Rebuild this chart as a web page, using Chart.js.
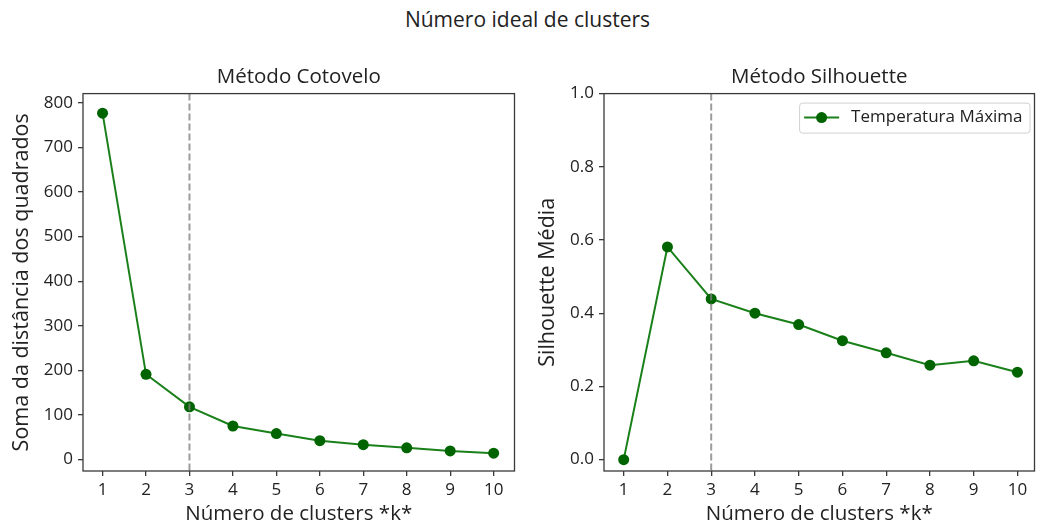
<!DOCTYPE html>
<html>
<head>
<meta charset="utf-8">
<script src="https://cdn.jsdelivr.net/npm/chart.js@4"></script>
<style>
  html, body { margin: 0; padding: 0; background: #ffffff; }
  #wrap { position: relative; width: 1040px; height: 527px; background: #fff; overflow: hidden; }
  #sup { position: absolute; left: 0; width: 1055px; top: 5px; text-align: center;
         font-family: "Open Sans", sans-serif; font-size: 21px; color: #222; line-height: 29px; }
  canvas { position: absolute; top: 0; }
  #c1 { left: 0; }
  #c2 { left: 520px; }
</style>
</head>
<body>
<div id="wrap">
  <div id="sup">Número ideal de clusters</div>
  <canvas id="c1" width="520" height="527"></canvas>
  <canvas id="c2" width="520" height="527"></canvas>
</div>
<script>
// ---- data ----
const clusters = [1, 2, 3, 4, 5, 6, 7, 8, 9, 10];
const somaDistancias = [777, 191, 118, 75, 58, 42, 33, 26, 19, 14];
const silhouetteMedia = [0.0, 0.581, 0.439, 0.400, 0.369, 0.325, 0.292, 0.258, 0.270, 0.239];
const kIdeal = 3;
const yTicksCotovelo = [0, 100, 200, 300, 400, 500, 600, 700, 800];
const yTicksSilhouette = [0.0, 0.2, 0.4, 0.6, 0.8, 1.0];
const serieLabel = 'Temperatura Máxima';

const FONT = '"Open Sans", sans-serif';
const TXT = '#222';
const SPINE = '#3a3a3a';
const LINE_COLOR = '#1a801a';
const MARKER_COLOR = '#006400';

const toPoints = (ys) => clusters.map((k, i) => ({ x: k, y: ys[i] }));

// frame (all four spines) + vertical dashed line at k ideal
const framePlugin = {
  id: 'frameAndVline',
  afterDatasetsDraw(chart) {
    const { ctx, chartArea: a, scales } = chart;
    const xp = scales.x.getPixelForValue(kIdeal);
    ctx.save();
    ctx.strokeStyle = 'rgba(128,128,128,0.78)';
    ctx.lineWidth = 2;
    ctx.setLineDash([7, 3]);
    ctx.beginPath();
    ctx.moveTo(xp, a.top);
    ctx.lineTo(xp, a.bottom);
    ctx.stroke();
    ctx.restore();
  },
  afterDraw(chart) {
    const { ctx, chartArea: a } = chart;
    ctx.save();
    ctx.strokeStyle = SPINE;
    ctx.lineWidth = 1.3;
    ctx.strokeRect(a.left, a.top, a.right - a.left, a.bottom - a.top);
    ctx.restore();
  }
};

// matplotlib-like legend inside the axes (upper right)
const mplLegend = {
  id: 'mplLegend',
  afterDraw(chart, args, opts) {
    if (!opts || !opts.show) return;
    const { ctx, chartArea: a } = chart;
    const ds = chart.data.datasets[0];
    ctx.save();
    ctx.font = '17px ' + FONT;
    const tw = ctx.measureText(ds.label).width;
    const padL = 5, lineLen = 35, gap = 12, padR = 7, h = 30;
    const w = padL + lineLen + gap + tw + padR;
    const right = a.right - 5, top = a.top + 9;
    const left = right - w;
    ctx.fillStyle = 'rgba(255,255,255,0.8)';
    ctx.strokeStyle = '#d0d0d0';
    ctx.lineWidth = 1;
    ctx.beginPath();
    ctx.roundRect(left + 0.5, top + 0.5, w, h, 3);
    ctx.fill();
    ctx.stroke();
    const cy = top + h / 2;
    ctx.strokeStyle = ds.borderColor;
    ctx.lineWidth = ds.borderWidth;
    ctx.beginPath();
    ctx.moveTo(left + padL, cy);
    ctx.lineTo(left + padL + lineLen, cy);
    ctx.stroke();
    ctx.fillStyle = ds.pointBackgroundColor;
    ctx.beginPath();
    ctx.arc(left + padL + lineLen / 2, cy, ds.pointRadius, 0, Math.PI * 2);
    ctx.fill();
    ctx.fillStyle = TXT;
    ctx.textBaseline = 'middle';
    ctx.textAlign = 'left';
    ctx.fillText(ds.label, left + padL + lineLen + gap, cy);
    ctx.restore();
  }
};

function makeChart(id, cfg) {
  return new Chart(document.getElementById(id), {
    type: 'line',
    data: {
      datasets: [{
        label: serieLabel,
        data: toPoints(cfg.values),
        borderColor: LINE_COLOR,
        borderWidth: 2,
        pointRadius: 5.5,
        pointHoverRadius: 5.5,
        pointBackgroundColor: MARKER_COLOR,
        pointBorderColor: MARKER_COLOR,
        pointBorderWidth: 0,
        tension: 0,
        fill: false
      }]
    },
    options: {
      responsive: false,
      animation: false,
      devicePixelRatio: 1,
      layout: { padding: { left: 0, right: cfg.padRight, top: 50, bottom: 0 } },
      plugins: {
        legend: { display: false },
        tooltip: { enabled: false },
        title: {
          display: true,
          fullSize: false,
          text: cfg.title,
          color: TXT,
          font: { family: FONT, size: 20.5, weight: 'normal' },
          padding: { top: 15, bottom: 4 }
        },
        mplLegend: { show: cfg.legend }
      },
      scales: {
        x: {
          type: 'linear',
          min: cfg.xMin,
          max: cfg.xMax,
          afterFit: (s) => { s.height = 56; s.paddingLeft = 0; s.paddingRight = 0; },
          afterBuildTicks: (s) => { s.ticks = clusters.map(v => ({ value: v })); },
          ticks: {
            color: TXT,
            font: { family: FONT, size: 17 },
            padding: 4,
            maxRotation: 0,
            autoSkip: false,
            callback: (v) => String(v)
          },
          grid: { display: true, drawOnChartArea: false, drawTicks: true, tickLength: 5, color: SPINE, lineWidth: 1.3 },
          border: { display: false },
          title: {
            display: true,
            text: 'Número de clusters *k*',
            color: TXT,
            font: { family: FONT, size: 20.5 },
            padding: { top: 0, bottom: 1 }
          }
        },
        y: {
          type: 'linear',
          min: cfg.yMin,
          max: cfg.yMax,
          afterFit: (s) => { s.width = cfg.yWidth; s.paddingTop = 0; s.paddingBottom = 0; },
          afterBuildTicks: (s) => { s.ticks = cfg.yTicks.map(v => ({ value: v })); },
          ticks: {
            color: TXT,
            font: { family: FONT, size: 17 },
            padding: 5,
            autoSkip: false,
            callback: cfg.fmt
          },
          grid: { display: true, drawOnChartArea: false, drawTicks: true, tickLength: 5, color: SPINE, lineWidth: 1.3 },
          border: { display: false },
          title: {
            display: true,
            text: cfg.yTitle,
            color: TXT,
            font: { family: FONT, size: 21.5 },
            padding: { top: cfg.yTitlePad, bottom: 0 }
          }
        }
      }
    },
    plugins: [framePlugin, mplLegend]
  });
}

makeChart('c1', {
  values: somaDistancias,
  title: 'Método Cotovelo',
  yTitle: 'Soma da distância dos quadrados',
  yTicks: yTicksCotovelo,
  xMin: 0.55, xMax: 10.48,
  yMin: -26, yMax: 821,
  yWidth: 83, padRight: 4, yTitlePad: 9,
  fmt: (v) => String(Math.round(v)),
  legend: false
});

makeChart('c2', {
  values: silhouetteMedia,
  title: 'Método Silhouette',
  yTitle: 'Silhouette Média',
  yTicks: yTicksSilhouette,
  xMin: 0.55, xMax: 10.39,
  yMin: -0.031, yMax: 1.0,
  yWidth: 84, padRight: 1, yTitlePad: 15,
  fmt: (v) => Number(v).toFixed(1),
  legend: true
});
</script>
</body>
</html>
